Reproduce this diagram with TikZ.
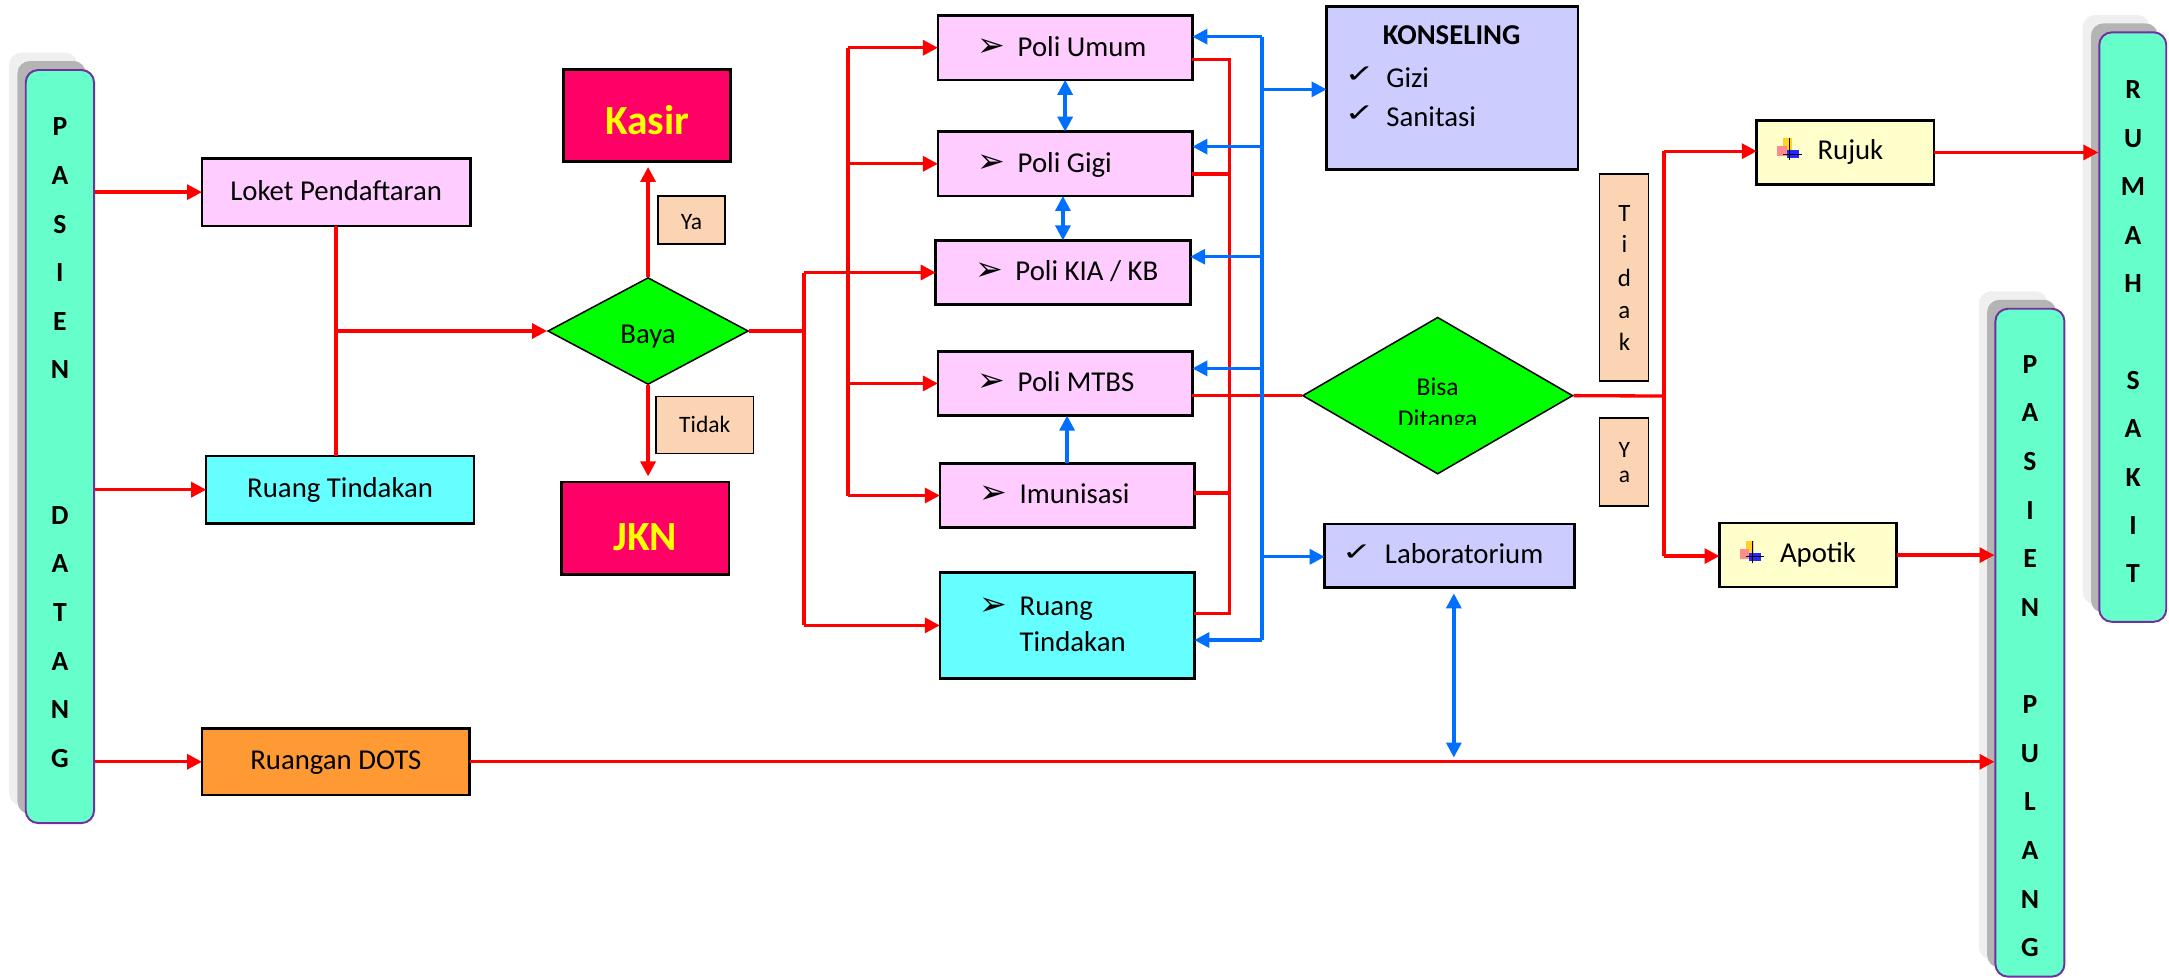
\documentclass[tikz,border=0pt]{standalone}
\usepackage{fontspec}
\usepackage{graphicx}
\setmainfont{Carlito}
\newfontfamily\djv{DejaVu Sans}
\usetikzlibrary{shapes.geometric,arrows.meta,calc}
\definecolor{redl}{RGB}{255,0,0}
\definecolor{bluel}{RGB}{0,110,255}
\definecolor{pinkbox}{RGB}{255,204,255}
\definecolor{cyanbox}{RGB}{102,255,255}
\definecolor{orangebox}{RGB}{255,153,51}
\definecolor{magbox}{RGB}{255,0,102}
\definecolor{lavbox}{RGB}{204,204,255}
\definecolor{yelbox}{RGB}{255,255,204}
\definecolor{peach}{RGB}{251,212,180}
\definecolor{aqua}{RGB}{102,255,204}
\definecolor{purp}{RGB}{112,48,160}
\definecolor{diamg}{RGB}{0,255,0}
\definecolor{kuning}{RGB}{255,255,0}
\definecolor{shd}{RGB}{180,180,180}
\definecolor{shl}{RGB}{239,239,239}
\definecolor{iconyel}{RGB}{255,210,40}
\newcommand{\chkmark}{\scalebox{1.45}[1]{\djv\fontsize{18}{18}\selectfont ✓}}
\tikzset{medicon/.pic={
  \fill[iconyel] (4.3,0) rectangle (10.6,8.6);
  \fill[red!45] (0,5.7) rectangle (7.1,12.8);
  \fill[blue!85] (7.1,8.6) rectangle (15.7,14.3);
  \draw[black,line width=0.7pt] (9.1,0) -- (9.1,15.7) (4.3,11.4) -- (17.7,11.4);
}}
\begin{document}
\begin{tikzpicture}[x=1pt,y=-1pt,
  bx/.style={draw=black,line width=1.9pt,inner sep=0pt,outer sep=0pt},
  lbl/.style={draw=black,line width=1.2pt,fill=peach,inner sep=0pt},
  rl/.style={draw=redl,line width=2.4pt},
  ra/.style={rl,-{Triangle[length=10.8pt,width=10.8pt]}},
  bl/.style={draw=bluel,line width=2.4pt},
  ba/.style={bl,-{Triangle[length=10.8pt,width=10.8pt]}},
  bba/.style={bl,{Triangle[length=10.8pt,width=10.8pt]}-{Triangle[length=10.8pt,width=10.8pt]}},
  colbox/.style={draw=purp,line width=1.4pt,fill=aqua,rounded corners=9pt,inner sep=0pt},
  shdark/.style={fill=shd,rounded corners=9pt,inner sep=0pt},
  shlight/.style={fill=shl,rounded corners=9pt,inner sep=0pt},
  colt/.style={font=\bfseries\fontsize{20}{20}\selectfont,anchor=base,inner sep=0pt},
  txt/.style={font=\fontsize{20.8}{24}\selectfont,anchor=base,inner sep=0pt},
  txtw/.style={txt,anchor=base west},
  bul/.style={font=\djv\fontsize{24}{24}\selectfont,anchor=base,inner sep=0pt},
  chk/.style={anchor=base,inner sep=0pt},
  pbox/.style={bx,fill=pinkbox,minimum width=184pt,minimum height=46.5pt},
]
\useasboundingbox (0,0) rectangle (1568,707);

% ---------- columns ----------
\node[shlight,minimum width=49.4pt,minimum height=544.4pt] (pdsl) at (31.3,310.2) {};
\node[shdark,minimum width=49.4pt,minimum height=544.4pt] (pdsd) at (37.3,316.3) {};
\node[colbox,minimum width=49.4pt,minimum height=544.4pt] (pd) at (43.3,322.8) {};
\foreach \c [count=\i from 0] in {P,A,S,I,E,N} \node[colt] (pda\i) at (43.3,{98.3+35.1*\i}) {\c};
\foreach \c [count=\i from 8] in {D,A,T,A,N,G} \node[colt] (pdb\i) at (43.3,{98.3+35.1*\i}) {\c};

\node[shlight,minimum width=48.4pt,minimum height=426.1pt] (rssl) at (1529.8,223.85) {};
\node[shdark,minimum width=48.4pt,minimum height=426.1pt] (rssd) at (1535.8,229.95) {};
\node[colbox,minimum width=48.4pt,minimum height=426.1pt] (rs) at (1541.8,236.45) {};
\foreach \c [count=\i from 0] in {R,U,M,A,H} \node[colt] (rsa\i) at (1542,{71.4+35*\i}) {\c};
\foreach \c [count=\i from 6] in {S,A,K,I,T} \node[colt] (rsb\i) at (1542,{71.4+35*\i}) {\c};

\node[shlight,minimum width=49.9pt,minimum height=482.8pt] (ppsl) at (1455.45,452) {};
\node[shdark,minimum width=49.9pt,minimum height=482.8pt] (ppsd) at (1461.45,458.1) {};
\node[colbox,minimum width=49.9pt,minimum height=482.8pt] (pp) at (1467.45,464.6) {};
\foreach \c [count=\i from 0] in {P,A,S,I,E,N} \node[colt] (ppa\i) at (1467.5,{269.8+35.15*\i}) {\c};
\foreach \c [count=\i from 7] in {P,U,L,A,N,G} \node[colt] (ppb\i) at (1467.5,{269.8+35.15*\i}) {\c};

% ---------- left boxes ----------
\node[bx,fill=pinkbox,minimum width=194pt,minimum height=48.7pt] (loket) at (243,138.9) {};
\node[txt] (loketT) at (243,144.6) {Loket Pendaftaran};
\node[bx,fill=cyanbox,minimum width=193.7pt,minimum height=48.9pt] (rtl) at (245.9,354) {};
\node[txt] (rtlT) at (245.9,359.5) {Ruang Tindakan};
\node[bx,fill=orangebox,minimum width=193.6pt,minimum height=48.2pt] (dots) at (242.8,550.7) {};
\node[txt] (dotsT) at (242.8,556.2) {Ruangan DOTS};

% ---------- Baya ----------
\node[diamond,draw=black,line width=1.1pt,fill=diamg,minimum width=145pt,minimum height=77.3pt,inner sep=0pt] (baya) at (468.5,239.3) {};
\node[txt] (bayaT) at (468.5,248) {Baya};
\node[bx,fill=magbox,minimum width=121pt,minimum height=66.6pt] (kasir) at (467.8,83.4) {};
\node[txt,font=\bfseries\fontsize{30}{30}\selectfont,text=kuning] (kasirT) at (467.8,97.3) {Kasir};
\node[bx,fill=magbox,minimum width=121pt,minimum height=67pt] (jkn) at (466.5,381.9) {};
\node[txt,font=\bfseries\fontsize{30}{30}\selectfont,text=kuning] (jknT) at (466.5,398.2) {JKN};
\node[lbl,minimum width=48.7pt,minimum height=34.8pt] (ya1) at (499.9,159.2) {};
\node[txt,font=\fontsize{17}{20}\selectfont] (ya1T) at (499.9,166) {Ya};
\node[lbl,minimum width=70.4pt,minimum height=41.1pt] (tdk1) at (509.5,307.2) {};
\node[txt,font=\fontsize{17}{20}\selectfont] (tdk1T) at (509.5,312.5) {Tidak};

% ---------- poli boxes ----------
\node[pbox] (umum) at (770,34.5) {};
\node[pbox] (gigi) at (770,118.4) {};
\node[pbox] (kia) at (768.4,197) {};
\node[pbox] (mtbs) at (770,277.2) {};
\node[pbox] (imun) at (771.4,358.2) {};
\node[bx,fill=cyanbox,minimum width=184pt,minimum height=76.6pt] (rtr) at (771.4,452.1) {};
\node[bul] (umumB) at ($(umum.west)+(38.5,6.5)$) {➢};
\node[txtw] (umumT) at ($(umum.west)+(57.5,6.5)$) {Poli Umum};
\node[bul] (gigiB) at ($(gigi.west)+(38.5,6)$) {➢};
\node[txtw] (gigiT) at ($(gigi.west)+(57.5,6)$) {Poli Gigi};
\node[bul] (kiaB) at ($(kia.west)+(38.5,6)$) {➢};
\node[txtw] (kiaT) at ($(kia.west)+(57.5,6)$) {Poli KIA / KB};
\node[bul] (mtbsB) at ($(mtbs.west)+(38.5,6)$) {➢};
\node[txtw] (mtbsT) at ($(mtbs.west)+(57.5,6)$) {Poli MTBS};
\node[bul] (imunB) at ($(imun.west)+(38.5,6)$) {➢};
\node[txtw] (imunT) at ($(imun.west)+(57.5,6)$) {Imunisasi};
\node[bul] (rtrB) at ($(rtr.west)+(38.5,-7.5)$) {➢};
\node[txtw] (rtrT1) at ($(rtr.west)+(57.5,-7.5)$) {Ruang};
\node[txtw] (rtrT2) at ($(rtr.west)+(57.5,19)$) {Tindakan};

% ---------- konseling / lab ----------
\node[bx,fill=lavbox,minimum width=181.8pt,minimum height=117.7pt] (kons) at (1049.9,63.6) {};
\node[txt,font=\bfseries\fontsize{20.8}{24}\selectfont] (konsT) at (1049.4,32.5) {KONSELING};
\node[chk] (chk1) at (983,59.5) {\chkmark};
\node[txtw] (gizi) at (1002,63.1) {Gizi};
\node[chk] (chk2) at (983,88) {\chkmark};
\node[txtw] (sani) at (1002,91.6) {Sanitasi};
\node[bx,fill=lavbox,minimum width=180.4pt,minimum height=45.7pt] (lab) at (1047.8,401.7) {};
\node[chk] (chk3) at (981,405) {\chkmark};
\node[txtw] (labT) at (1001,407.3) {Laboratorium};

% ---------- Bisa ditangani ----------
\node[diamond,draw=black,line width=1.1pt,fill=diamg,minimum width=195.4pt,minimum height=113.4pt,inner sep=0pt] (bisa) at (1039.3,286) {};
\node[txt,font=\fontsize{18.5}{20}\selectfont] (bisaT1) at (1039.3,285.6) {Bisa};
\begin{scope}
\clip (940,290) rectangle (1140,306.8);
\node[txt,font=\fontsize{18.5}{20}\selectfont] (bisaT2) at (1039.3,308.9) {Ditanga};
\end{scope}

% ---------- right side ----------
\node[bx,fill=yelbox,minimum width=128pt,minimum height=46.3pt] (rujuk) at (1334,110.2) {};
\pic at (1284.7,100) {medicon};
\node[txtw] (rujukT) at (1313.7,115.6) {Rujuk};
\node[bx,fill=yelbox,minimum width=128pt,minimum height=46.2pt] (apotik) at (1307,401.3) {};
\pic at (1257.6,391) {medicon};
\node[txtw] (apotikT) at (1286.6,406.7) {Apotik};

\node[lbl,minimum width=35.3pt,minimum height=149.9pt] (tdk2) at (1174,200.6) {};
\foreach \c/\yy [count=\i] in {T/159.9,i/182.7,d/207,a/230.6,k/253.2}
  \node[txt,font=\fontsize{18}{18}\selectfont] (tdkl\i) at (1174.3,\yy) {\c};
\node[lbl,minimum width=35.3pt,minimum height=64pt] (ya2) at (1174,334) {};
\node[txt,font=\fontsize{17}{17}\selectfont] (yal1) at (1174.3,331) {Y};
\node[txt,font=\fontsize{17}{17}\selectfont] (yal2) at (1174.3,348.8) {a};

% ---------- connectors: left ----------
\draw[ra] (loket.west -| pd.east) -- (loket.west);
\draw[ra] (rtl.west -| pd.east) -- (rtl.west);
\draw[ra] (dots.west -| pd.east) -- (dots.west);
\draw[rl] (loket.south) -- (loket.south |- rtl.north);
\draw[ra] (loket.south |- baya.west) -- (baya.west);
\draw[ra] (baya.north) -- ($(baya.north |- kasir.south)+(0,4)$);
\draw[ra] (baya.south) -- ($(baya.south |- jkn.north)+(0,-4)$);

% ---------- Baya to poli ----------
\coordinate (bf) at (581.3,239.3);
\coordinate (bft) at (581.3,197);
\coordinate (bfb) at (581.3,452.1);
\draw[rl] (baya.east) -- (bf);
\draw[rl] (bft) -- (bfb);
\draw[ra] (bft) -- (kia.west);
\draw[ra] (bfb) -- (rtr.west);
\coordinate (ibt) at (613,34.5);
\coordinate (ibb) at (613,358.2);
\draw[rl] (ibt) -- (ibb);
\draw[ra] (ibt) -- (umum.west);
\draw[ra] (ibt |- gigi.west) -- (gigi.west);
\draw[ra] (ibt |- mtbs.west) -- (mtbs.west);
\draw[ra] (ibb) -- (imun.west);

% ---------- between poli ----------
\draw[bba] (umum.south) -- (gigi.north);
\draw[bba] (kia.north |- gigi.south) -- (kia.north);
\draw[ba] (imun.north) -- (imun.north |- mtbs.south);

% ---------- red bus ----------
\coordinate (rbt) at (888.6,42.9);
\coordinate (rbb) at (888.6,443.5);
\draw[rl] (umum.east |- rbt) -- (rbt) -- (rbb) -- (rbb -| rtr.east);
\coordinate (rbg) at (888.6,125.8);
\coordinate (rbi) at (888.6,356.5);
\draw[rl] (rbg -| gigi.east) -- (rbg);
\draw[rl] (rbi -| imun.east) -- (rbi);
\draw[rl] (bisa.west -| mtbs.east) -- (bisa.west);

% ---------- blue bus ----------
\coordinate (bbt) at (912.2,26.5);
\coordinate (bbb) at (912.2,462.7);
\coordinate (bbg) at (912.2,106);
\coordinate (bbk) at (912.2,185.6);
\coordinate (bbm) at (912.2,266.3);
\coordinate (bbc) at (912.2,64.6);
\coordinate (bbl) at (912.2,402.5);
\draw[bl] (bbt) -- (bbb);
\draw[ba] (bbt) -- (bbt -| umum.east);
\draw[ba] (bbg) -- (bbg -| gigi.east);
\draw[ba] (bbk) -- (bbk -| kia.east);
\draw[ba] (bbm) -- (bbm -| mtbs.east);
\draw[ba] (bbb) -- (bbb -| rtr.east);
\draw[ba] (bbc) -- (bbc -| kons.west);
\draw[ba] (bbl) -- (bbl -| lab.west);
\coordinate (lbt) at (1051,429);
\coordinate (lbb) at (1051,547.6);
\draw[bba] (lbt) -- (lbb);

% ---------- right fork ----------
\coordinate (rf) at (1203,286.3);
\coordinate (rft) at (1203,109.3);
\coordinate (rfb) at (1203,402);
\draw[rl] (bisa.east) -- (rf);
\draw[rl] (rft) -- (rfb);
\draw[ra] (rft) -- (rft -| rujuk.west);
\draw[ra] (rfb) -- (rfb -| apotik.west);
\draw[ra] (rujuk.east) -- (rujuk.east -| rs.west);
\draw[ra] (apotik.east) -- (apotik.east -| pp.west);
\draw[ra] (dots.east) -- (dots.east -| pp.west);
\end{tikzpicture}
\end{document}
